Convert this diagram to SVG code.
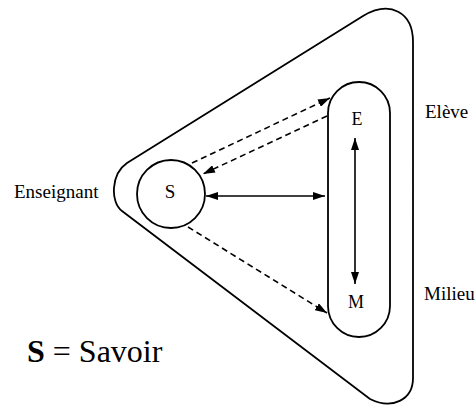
<svg xmlns="http://www.w3.org/2000/svg" width="476" height="405" viewBox="0 0 476 405">
<style>
.ln{fill:none;stroke:#000;stroke-width:1.8}
.ar{fill:none;stroke:#000;stroke-width:1.6}
.da{stroke-dasharray:6 4}
text{font-family:'Liberation Serif','Times New Roman','DejaVu Serif',serif;fill:#000}
</style>
<defs>
<marker id="ah" viewBox="0 0 12 8" refX="12" refY="4" markerWidth="12" markerHeight="8" markerUnits="userSpaceOnUse" orient="auto-start-reverse">
<path d="M0,0 L12,4 L0,8 Z" fill="#000"/>
</marker>
</defs>
<rect width="476" height="405" fill="#fff"/>
<g id="outer">
<path class="ln" d="M127,163 L363,16 C390,0 413,12 413,42 L413,378 C413,400 392,410 370,399 L122,211 C110,202 111,174 127,163 Z"/>
</g>
<g id="node-S">
<circle class="ln" cx="171" cy="194" r="34"/>
<text x="170" y="198" font-size="19" text-anchor="middle">S</text>
</g>
<g id="node-EM">
<rect class="ln" x="328" y="82" width="62" height="255" rx="31"/>
<text x="357" y="125" font-size="18" text-anchor="middle">E</text>
<text x="356" y="308" font-size="18" text-anchor="middle">M</text>
</g>
<g id="connectors">
<line class="ar" x1="206" y1="196" x2="325" y2="196" marker-start="url(#ah)" marker-end="url(#ah)"/>
<line class="ar" x1="355" y1="138" x2="355" y2="284" marker-start="url(#ah)" marker-end="url(#ah)"/>
<line class="ar da" x1="192" y1="163" x2="330" y2="98" marker-end="url(#ah)"/>
<line class="ar da" x1="327" y1="116" x2="203" y2="174" marker-end="url(#ah)"/>
<line class="ar da" x1="188" y1="227" x2="327" y2="313" marker-end="url(#ah)"/>
</g>
<g id="labels">
<text x="14" y="198" font-size="19">Enseignant</text>
<text x="425" y="118" font-size="19">Elève</text>
<text x="424" y="300" font-size="19">Milieu</text>
<text x="27" y="362" font-size="32"><tspan font-weight="bold">S</tspan> = Savoir</text>
</g>
</svg>
